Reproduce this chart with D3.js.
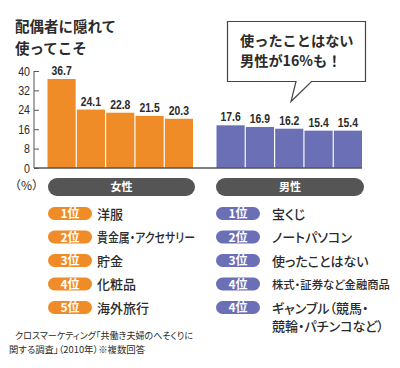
<!DOCTYPE html>
<html><head><meta charset="utf-8">
<script src="https://cdn.jsdelivr.net/npm/d3@7"></script>
<style>
body{margin:0;background:#fff;}
svg{display:block;}
.jp{font-family:"Noto Sans CJK JP","Noto Sans CJK SC",sans-serif;}
.palt{font-feature-settings:"palt";}
.num{font-family:"Liberation Sans",Arial,sans-serif;}
</style></head>
<body>
<svg id="c" width="400" height="368"></svg>
<script>
const titleLines = ["配偶者に隠れて","使ってこそ"];
const calloutLines = ["使ったことはない","男性が16%も！"];
const femaleValues = [36.7,24.1,22.8,21.5,20.3];
const maleValues = [17.6,16.9,16.2,15.4,15.4];
const yTicks = [0,8,16,24,32,40];
const groupLabels = ["女性","男性"];
const femaleRanks = ["1位","2位","3位","4位","5位"];
const femaleItems = [["洋服"],["貴金属・アクセサリー"],["貯金"],["化粧品"],["海外旅行"]];
const maleRanks = ["1位","2位","3位","4位","4位"];
const maleItems = [["宝くじ"],["ノートパソコン"],["使ったことはない"],["株式・証券など金融商品"],["ギャンブル（競馬・","競輪・パチンコなど）"]];
const sourceLines = ["クロスマーケティング「共働き夫婦のへそくりに","関する調査」（2010年）※複数回答"];
const unitLabel = "（%）";

const orange = "#EF8C28", blue = "#6B6FB6", grey = "#555555", dark = "#2b2b2b";
const NARROW = 0.8;
const svg = d3.select("#c");

// title
svg.append("g").selectAll("text").data(titleLines).join("text")
  .attr("class","jp").attr("x",15).attr("y",(d,i)=>32+i*22)
  .attr("font-size",14.5).attr("font-weight",700).attr("fill",dark).text(d=>d);

const y = d3.scaleLinear().domain([0,40]).range([168,71]);
const xF = d3.scaleBand().domain(d3.range(femaleValues.length)).range([47.5,193]).paddingInner(0.04);
const xM = d3.scaleBand().domain(d3.range(maleValues.length)).range([216.5,362]).paddingInner(0.04);

// axis
const ax = svg.append("g").attr("transform","translate(39,0)")
  .call(d3.axisLeft(y).tickValues(yTicks).tickSize(5).tickPadding(4));
ax.select(".domain").remove();
ax.selectAll("line").attr("stroke",grey).attr("stroke-width",1);
ax.selectAll("text").each(function(){
  const t = d3.select(this); const x = +t.attr("x");
  t.attr("x",0).attr("transform",`translate(${x},0) scale(0.82,1)`)
   .attr("font-size",13).attr("fill",dark).style("font-family",'"Liberation Sans",Arial,sans-serif');
});
svg.append("line").attr("x1",34).attr("x2",34).attr("y1",y(40)).attr("y2",y(0))
  .attr("stroke",grey).attr("stroke-width",1);

function bars(vals,x,color){
  const g = svg.append("g");
  g.selectAll("rect").data(vals).join("rect")
    .attr("x",(d,i)=>x(i)).attr("width",x.bandwidth())
    .attr("y",d=>y(d)).attr("height",d=>y(0)-y(d)).attr("fill",color);
  g.selectAll("text").data(vals).join("text")
    .attr("class","num").attr("transform",(d,i)=>`translate(${x(i)+x.bandwidth()/2},${y(d)-4}) scale(${NARROW},1)`)
    .attr("text-anchor","middle").attr("font-size",13).attr("font-weight",700).attr("fill",dark)
    .text(d=>d.toFixed(1));
}
bars(femaleValues,xF,orange);
bars(maleValues,xM,blue);

// baseline
svg.append("line").attr("x1",34).attr("x2",362).attr("y1",y(0)).attr("y2",y(0))
  .attr("stroke",grey).attr("stroke-width",1.5);

// callout
svg.append("path")
  .attr("d","M227.5,21.5 H365.5 V81.5 H311.5 L291,101.5 L296,81.5 H227.5 Z")
  .attr("fill","#fff").attr("stroke","#444").attr("stroke-width",1.2);
svg.append("g").selectAll("text").data(calloutLines).join("text")
  .attr("class","jp").attr("x",240).attr("y",(d,i)=>46+i*20)
  .attr("font-size",14.2).attr("font-weight",700).attr("fill",dark).text(d=>d);

// unit
svg.append("text").attr("class","jp").attr("x",9).attr("y",190).attr("font-size",12)
  .attr("fill",dark).text(unitLabel);

// headers
const headers = [{x0:48,x1:195},{x0:216,x1:364}];
headers.forEach((h,i)=>{
  svg.append("rect").attr("x",h.x0).attr("y",178).attr("width",h.x1-h.x0).attr("height",18)
    .attr("rx",9).attr("fill",grey);
  svg.append("text").attr("class","jp").attr("x",(h.x0+h.x1)/2).attr("y",191)
    .attr("text-anchor","middle").attr("font-size",11).attr("font-weight",700).attr("fill","#fff")
    .text(groupLabels[i]);
});

function fit(sel,tx,maxW){
  sel.each(function(){
    const t = d3.select(this);
    const w = this.getComputedTextLength();
    if (w <= maxW) return;
    if (tx + w > 396) {
      t.attr("font-size", (+t.attr("font-size")) * maxW / w);
    } else {
      t.attr("textLength",maxW).attr("lengthAdjust","spacingAndGlyphs");
    }
  });
}

// rank lists
function list(ranks,items,px,tx,maxW,color){
  const rowY = i=>213.5+i*23.5;
  const g = svg.append("g");
  ranks.forEach((r,i)=>{
    g.append("rect").attr("x",px).attr("y",rowY(i)-6.5).attr("width",44).attr("height",13)
      .attr("rx",6.5).attr("fill",color);
    g.append("text").attr("class","jp").attr("x",px+22).attr("y",rowY(i)+4.5)
      .attr("text-anchor","middle").attr("font-size",12).attr("font-weight",700).attr("fill","#fff").text(r);
    items[i].forEach((t,j)=>{
      g.append("text").attr("class","jp palt").attr("x",tx).attr("y",rowY(i)+5+j*18.5)
        .attr("font-size",13).attr("font-weight",500).attr("fill",dark).text(t).call(fit,tx,maxW);
    });
  });
}
list(femaleRanks,femaleItems,48,97,98,orange);
list(maleRanks,maleItems,216,272,118,blue);

// source
const srcW = [178,136];
svg.append("g").selectAll("text").data(sourceLines).join("text")
  .attr("class","jp palt").attr("x",(d,i)=>i?9:15).attr("y",(d,i)=>339+i*14)
  .attr("font-size",9.5).attr("fill",dark).text(d=>d)
  .each(function(d,i){ d3.select(this).attr("textLength",srcW[i]).attr("lengthAdjust","spacingAndGlyphs"); });
</script>
</body></html>
